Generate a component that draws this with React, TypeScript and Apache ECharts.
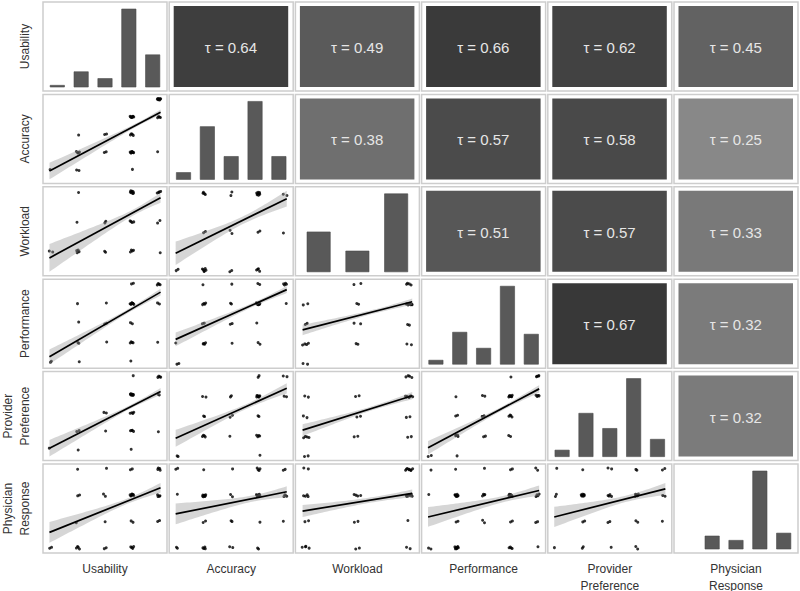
import React, { useEffect, useRef } from "react";
import * as echarts from "echarts";

// ---------------- DATA ----------------
const variableNames = [
  "Usability",
  "Accuracy",
  "Workload",
  "Performance",
  "Provider\nPreference",
  "Physician\nResponse",
];
const variableLevels = [
  [1, 2, 3, 4, 5],
  [1, 2, 3, 4, 5],
  [1, 2, 3],
  [1, 2, 3, 4, 5],
  [1, 2, 3, 4, 5],
  [1, 2, 3, 4, 5],
];

// diagonal bar counts (per level)
const usabilityCounts = [1, 9, 5, 46, 19];
const accuracyCounts = [3, 23, 10, 34, 10];
const workloadCounts = [23, 12, 45];
const performanceCounts = [2, 16, 8, 39, 15];
const providerPreferenceCounts = [3, 20, 13, 36, 8];
const physicianResponseCounts = [0, 9, 6, 54, 11];
const histogramCounts = [
  usabilityCounts,
  accuracyCounts,
  workloadCounts,
  performanceCounts,
  providerPreferenceCounts,
  physicianResponseCounts,
];

// Kendall's tau for the upper triangle: [row, col, tau]
const kendallTau = [
  [0, 1, 0.64], [0, 2, 0.49], [0, 3, 0.66], [0, 4, 0.62], [0, 5, 0.45],
  [1, 2, 0.38], [1, 3, 0.57], [1, 4, 0.58], [1, 5, 0.25],
  [2, 3, 0.51], [2, 4, 0.57], [2, 5, 0.33],
  [3, 4, 0.67], [3, 5, 0.32],
  [4, 5, 0.32],
];

// lower triangle: occupied (x level, y level, count)
const accuracyVsUsability = [
  [1, 1, 1], [2, 1, 2], [4, 1, 1],
  [2, 2, 4], [3, 2, 2], [4, 2, 8], [5, 2, 1],
  [2, 3, 1], [3, 3, 2], [4, 3, 4],
  [4, 4, 8], [5, 4, 4],
  [5, 5, 8],
];
const workloadVsUsability = [
  [1, 1, 2], [2, 1, 4], [3, 1, 2], [4, 1, 4], [5, 1, 1],
  [2, 2, 1], [3, 2, 2], [4, 2, 4], [5, 2, 2],
  [2, 3, 1], [4, 3, 8], [5, 3, 4],
];
const workloadVsAccuracy = [
  [1, 1, 2], [2, 1, 6], [3, 1, 2], [4, 1, 4],
  [2, 2, 2], [3, 2, 2], [4, 2, 2], [5, 2, 1],
  [2, 3, 4], [3, 3, 2], [4, 3, 8], [5, 3, 2],
];
const performanceVsUsability = [
  [1, 1, 2], [2, 1, 1], [4, 1, 1],
  [2, 2, 2], [3, 2, 1], [4, 2, 4], [5, 2, 1],
  [2, 3, 1], [3, 3, 2], [4, 3, 2],
  [2, 4, 1], [3, 4, 1], [4, 4, 8], [5, 4, 2],
  [4, 5, 2], [5, 5, 4],
];
const performanceVsAccuracy = [
  [1, 1, 2], [1, 2, 1],
  [2, 2, 4], [3, 2, 1], [4, 2, 2],
  [2, 3, 2], [3, 3, 2], [4, 3, 1],
  [2, 4, 4], [3, 4, 2], [4, 4, 8], [5, 4, 1],
  [2, 5, 1], [3, 5, 1], [4, 5, 2], [5, 5, 4],
];
const performanceVsWorkload = [
  [1, 1, 2],
  [1, 2, 4], [2, 2, 2], [3, 2, 2],
  [1, 3, 2], [2, 3, 2], [3, 3, 2],
  [1, 4, 2], [2, 4, 2], [3, 4, 8],
  [2, 5, 2], [3, 5, 4],
];
const preferenceVsUsability = [
  [1, 1, 1], [2, 1, 1], [4, 1, 1],
  [2, 2, 2], [3, 2, 1], [4, 2, 4], [5, 2, 1],
  [3, 3, 2], [4, 3, 4],
  [4, 4, 8], [5, 4, 2],
  [4, 5, 1], [5, 5, 4],
];
const preferenceVsAccuracy = [
  [1, 1, 2], [4, 1, 1],
  [2, 2, 4], [3, 2, 1], [4, 2, 4],
  [2, 3, 2], [3, 3, 2], [4, 3, 2],
  [2, 4, 2], [3, 4, 2], [4, 4, 8], [5, 4, 2],
  [4, 5, 2], [5, 5, 2],
];
const preferenceVsWorkload = [
  [1, 1, 2],
  [1, 2, 4], [2, 2, 2], [3, 2, 2],
  [1, 3, 2], [2, 3, 2], [3, 3, 2],
  [1, 4, 2], [2, 4, 2], [3, 4, 8],
  [3, 5, 4],
];
const preferenceVsPerformance = [
  [1, 1, 2], [2, 1, 1],
  [2, 2, 4], [3, 2, 2], [4, 2, 2],
  [2, 3, 2], [3, 3, 2], [4, 3, 4],
  [2, 4, 1], [3, 4, 2], [4, 4, 8], [5, 4, 4],
  [4, 5, 1], [5, 5, 4],
];
const responseVsUsability = [
  [1, 2, 2], [2, 2, 4], [3, 2, 2], [4, 2, 4],
  [2, 3, 1], [3, 3, 1], [4, 3, 2], [5, 3, 2],
  [2, 4, 2], [3, 4, 2], [4, 4, 8], [5, 4, 4],
  [2, 5, 1], [3, 5, 1], [4, 5, 2], [5, 5, 4],
];
const responseVsAccuracy = [
  [1, 2, 2], [2, 2, 4], [3, 2, 2], [4, 2, 2],
  [2, 3, 2], [3, 3, 2], [4, 3, 1], [5, 3, 1],
  [1, 4, 1], [2, 4, 8], [3, 4, 2], [4, 4, 8], [5, 4, 4],
  [1, 5, 2], [2, 5, 1], [3, 5, 1], [4, 5, 4], [5, 5, 2],
];
const responseVsWorkload = [
  [1, 2, 4], [2, 2, 2], [3, 2, 2],
  [1, 3, 2], [2, 3, 2], [3, 3, 1],
  [1, 4, 4], [2, 4, 4], [3, 4, 8],
  [1, 5, 2], [3, 5, 8],
];
const responseVsPerformance = [
  [1, 2, 2], [2, 2, 8], [4, 2, 4], [5, 2, 1],
  [2, 3, 2], [3, 3, 2], [4, 3, 2], [5, 3, 2],
  [1, 4, 1], [2, 4, 8], [3, 4, 4], [4, 4, 8], [5, 4, 4],
  [1, 5, 1], [2, 5, 1], [3, 5, 1], [4, 5, 2], [5, 5, 2],
];
const responseVsPreference = [
  [1, 2, 1], [2, 2, 2], [3, 2, 1], [4, 2, 2],
  [2, 3, 2], [3, 3, 2], [4, 3, 2], [5, 3, 1],
  [1, 4, 2], [2, 4, 8], [3, 4, 4], [4, 4, 8], [5, 4, 2],
  [1, 5, 1], [2, 5, 1], [3, 5, 2], [4, 5, 2], [5, 5, 2],
];

// linear fits: [y at lowest x level, y at highest x level, CI half-width at low end, min half-width, half-width at high end]
const fitAccuracyUsability = [0.98, 4.22, 0.46, 0.1, 0.14];
const fitWorkloadUsability = [0.81, 2.78, 0.46, 0.1, 0.16];
const fitWorkloadAccuracy = [1.46, 2.85, 0.3, 0.1, 0.2];
const fitPerformanceUsability = [1.31, 4.54, 0.37, 0.1, 0.17];
const fitPerformanceAccuracy = [2.24, 4.68, 0.34, 0.1, 0.17];
const fitPerformanceWorkload = [2.75, 4.08, 0.25, 0.1, 0.15];
const fitPreferenceUsability = [1.09, 4.13, 0.45, 0.1, 0.18];
const fitPreferenceAccuracy = [1.92, 4.37, 0.42, 0.12, 0.25];
const fitPreferenceWorkload = [2.38, 4.0, 0.28, 0.1, 0.17];
const fitPreferencePerformance = [1.45, 4.32, 0.33, 0.1, 0.18];
const fitResponseUsability = [2.61, 4.26, 0.39, 0.1, 0.18];
const fitResponseAccuracy = [3.31, 4.13, 0.39, 0.12, 0.2];
const fitResponseWorkload = [3.42, 4.06, 0.22, 0.1, 0.14];
const fitResponsePerformance = [3.19, 4.17, 0.37, 0.12, 0.19];
const fitResponsePreference = [3.19, 4.23, 0.38, 0.12, 0.22];

const scatterPanels = [
  { row: 1, col: 0, points: accuracyVsUsability, fit: fitAccuracyUsability },
  { row: 2, col: 0, points: workloadVsUsability, fit: fitWorkloadUsability },
  { row: 2, col: 1, points: workloadVsAccuracy, fit: fitWorkloadAccuracy },
  { row: 3, col: 0, points: performanceVsUsability, fit: fitPerformanceUsability },
  { row: 3, col: 1, points: performanceVsAccuracy, fit: fitPerformanceAccuracy },
  { row: 3, col: 2, points: performanceVsWorkload, fit: fitPerformanceWorkload },
  { row: 4, col: 0, points: preferenceVsUsability, fit: fitPreferenceUsability },
  { row: 4, col: 1, points: preferenceVsAccuracy, fit: fitPreferenceAccuracy },
  { row: 4, col: 2, points: preferenceVsWorkload, fit: fitPreferenceWorkload },
  { row: 4, col: 3, points: preferenceVsPerformance, fit: fitPreferencePerformance },
  { row: 5, col: 0, points: responseVsUsability, fit: fitResponseUsability },
  { row: 5, col: 1, points: responseVsAccuracy, fit: fitResponseAccuracy },
  { row: 5, col: 2, points: responseVsWorkload, fit: fitResponseWorkload },
  { row: 5, col: 3, points: responseVsPerformance, fit: fitResponsePerformance },
  { row: 5, col: 4, points: responseVsPreference, fit: fitResponsePreference },
];

// ---------------- LAYOUT / STYLE ----------------
const N = 6;
const PANEL_LEFT = 43;
const STEP_X = 126.2;
const PANEL_W = 124;
const PANEL_TOP = 2;
const STEP_Y = 92.4;
const PANEL_H = 89;
const JX = 0.07;
const JY = 0.05;
const FONT = '"Liberation Sans", Arial, Helvetica, sans-serif';

function halton(i: number, b: number) {
  let f = 1;
  let r = 0;
  while (i > 0) {
    f /= b;
    r += f * (i % b);
    i = Math.floor(i / b);
  }
  return r;
}

function tauColor(t: number) {
  const l = Math.max(0, Math.min(255, Math.round(183.5 - 190 * t)));
  return `rgb(${l},${l},${l})`;
}

function makeFit(fit: number[], xa: number, xb: number) {
  const [yA, yB, hwA, m, hwB] = fit;
  const a2 = Math.max(hwA * hwA - m * m, 1e-6);
  const b2 = Math.max(hwB * hwB - m * m, 1e-6);
  const r = Math.sqrt(a2 / b2);
  const xc = (xa + r * xb) / (1 + r);
  const k2 = a2 / ((xc - xa) * (xc - xa));
  const line = (x: number) => yA + ((yB - yA) * (x - xa)) / (xb - xa);
  const hw = (x: number) => Math.sqrt(m * m + k2 * (x - xc) * (x - xc));
  return { line, hw };
}

function buildOption() {
  const grids: any[] = [];
  const xAxes: any[] = [];
  const yAxes: any[] = [];
  const series: any[] = [];

  const idx = (r: number, c: number) => r * N + c;

  for (let r = 0; r < N; r++) {
    for (let c = 0; c < N; c++) {
      grids.push({
        left: PANEL_LEFT + c * STEP_X,
        top: PANEL_TOP + r * STEP_Y,
        width: PANEL_W,
        height: PANEL_H,
        show: true,
        backgroundColor: "#ffffff",
        borderColor: "#cdcdcd",
        borderWidth: 1.5,
        containLabel: false,
      });
      xAxes.push({ gridIndex: idx(r, c), type: "value", show: false, min: 0, max: 1 });
      yAxes.push({ gridIndex: idx(r, c), type: "value", show: false, min: 0, max: 1 });
    }
  }

  // upper triangle: tau cells
  kendallTau.forEach(([r, c, tau]) => {
    const i = idx(r, c);
    series.push({
      type: "custom",
      xAxisIndex: i,
      yAxisIndex: i,
      silent: true,
      data: [[0.5, 0.5, tau]],
      renderItem: (_p: any, api: any) => {
        const p0 = api.coord([0, 1]);
        const p1 = api.coord([1, 0]);
        const t = api.value(2);
        const x = p0[0] + 4.5;
        const y = p0[1] + 4;
        const w = p1[0] - p0[0] - 9.5;
        const h = p1[1] - p0[1] - 8;
        return {
          type: "group",
          children: [
            { type: "rect", shape: { x, y, width: w, height: h }, style: { fill: tauColor(t) } },
            {
              type: "text",
              style: {
                text: "τ = " + t.toFixed(2),
                x: x + w / 2,
                y: y + h / 2 + 1,
                textAlign: "center",
                textVerticalAlign: "middle",
                fill: "#e6e6e6",
                font: `15px ${FONT}`,
              },
            },
          ],
        };
      },
    });
  });

  // diagonal: bars
  histogramCounts.forEach((counts, v) => {
    const i = idx(v, v);
    const levels = variableLevels[v];
    const maxC = Math.max(...counts);
    xAxes[i].min = levels[0] - 0.6;
    xAxes[i].max = levels[levels.length - 1] + 0.6;
    yAxes[i].min = -0.051 * maxC;
    yAxes[i].max = 1.09 * maxC;
    series.push({
      type: "custom",
      xAxisIndex: i,
      yAxisIndex: i,
      silent: true,
      data: levels.map((lv, k) => [lv, counts[k]]),
      renderItem: (_p: any, api: any) => {
        const lv = api.value(0);
        const cnt = api.value(1);
        if (!cnt) return null;
        const a = api.coord([lv - 0.3, cnt]);
        const b = api.coord([lv + 0.3, 0]);
        return {
          type: "rect",
          shape: { x: a[0], y: a[1], width: b[0] - a[0], height: b[1] - a[1] },
          style: { fill: "#595959", stroke: "#4a4a4a", lineWidth: 0.6 },
        };
      },
    });
  });

  // lower triangle: jittered points + linear fit with CI band
  scatterPanels.forEach((panel, pi) => {
    const i = idx(panel.row, panel.col);
    const xl = variableLevels[panel.col];
    const xa = xl[0];
    const xb = xl[xl.length - 1];
    const { line, hw } = makeFit(panel.fit, xa, xb);

    let g = 1 + pi * 13;
    const pts: number[][] = [];
    panel.points.forEach(([x, y, n]) => {
      for (let k = 0; k < n; k++) {
        g++;
        pts.push([x + (halton(g, 2) * 2 - 1) * JX, y + (halton(g, 3) * 2 - 1) * JY]);
      }
    });

    const x0 = xa - 0.06;
    const x1 = xb + 0.06;
    let lo = Infinity;
    let hi = -Infinity;
    pts.forEach((p) => {
      lo = Math.min(lo, p[1]);
      hi = Math.max(hi, p[1]);
    });
    for (let s = 0; s <= 40; s++) {
      const x = x0 + ((x1 - x0) * s) / 40;
      lo = Math.min(lo, line(x) - hw(x));
      hi = Math.max(hi, line(x) + hw(x));
    }
    const padY = (hi - lo) * 0.05;
    yAxes[i].min = lo - padY;
    yAxes[i].max = hi + padY;
    const xlo = xa - 0.09;
    const xhi = xb + 0.09;
    const padX = (xhi - xlo) * 0.05;
    xAxes[i].min = xlo - padX;
    xAxes[i].max = xhi + padX;

    series.push({
      type: "scatter",
      xAxisIndex: i,
      yAxisIndex: i,
      silent: true,
      symbol: "circle",
      symbolSize: 3,
      itemStyle: { color: "#000000" },
      z: 2,
      data: pts,
    });

    series.push({
      type: "custom",
      xAxisIndex: i,
      yAxisIndex: i,
      silent: true,
      z: 3,
      data: [[xa, line(xa)]],
      renderItem: (_p: any, api: any) => {
        const upper: number[][] = [];
        const lower: number[][] = [];
        const steps = 40;
        for (let s = 0; s <= steps; s++) {
          const x = x0 + ((x1 - x0) * s) / steps;
          upper.push(api.coord([x, line(x) + hw(x)]));
          lower.push(api.coord([x, line(x) - hw(x)]));
        }
        return {
          type: "group",
          children: [
            {
              type: "polygon",
              shape: { points: upper.concat(lower.reverse()) },
              style: { fill: "rgba(153,153,153,0.4)" },
            },
            {
              type: "polyline",
              shape: { points: [api.coord([x0, line(x0)]), api.coord([x1, line(x1)])] },
              style: { stroke: "#000000", lineWidth: 1.7, fill: "none" },
            },
          ],
        };
      },
    });
  });

  // labels
  const graphic: any[] = [];
  variableNames.forEach((name, k) => {
    graphic.push({
      type: "text",
      x: PANEL_LEFT + k * STEP_X + PANEL_W / 2,
      y: 560,
      silent: true,
      style: {
        text: name,
        textAlign: "center",
        textVerticalAlign: "top",
        font: `12px ${FONT}`,
        lineHeight: 17,
        fill: "#333333",
      },
    });
    graphic.push({
      type: "text",
      x: 33,
      y: PANEL_TOP + k * STEP_Y + PANEL_H / 2,
      rotation: Math.PI / 2,
      silent: true,
      style: {
        text: name,
        textAlign: "center",
        textVerticalAlign: "bottom",
        font: `12px ${FONT}`,
        lineHeight: 17,
        fill: "#333333",
      },
    });
  });

  return {
    animation: false,
    backgroundColor: "#ffffff",
    grid: grids,
    xAxis: xAxes,
    yAxis: yAxes,
    series,
    graphic,
  };
}

export default function App() {
  const ref = useRef<HTMLDivElement>(null);
  useEffect(() => {
    document.body.style.margin = "0";
    const chart = echarts.init(ref.current as HTMLDivElement, null, { renderer: "svg" });
    chart.setOption(buildOption() as any);
    return () => chart.dispose();
  }, []);
  return <div ref={ref} style={{ width: 800, height: 591 }} />;
}
